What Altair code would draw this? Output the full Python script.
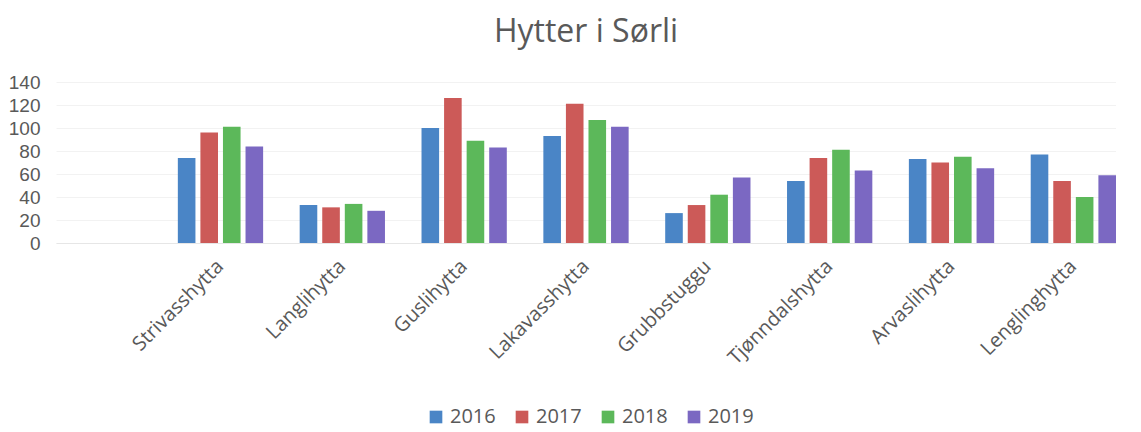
import altair as alt
import pandas as pd

cats = ["Strivasshytta", "Langlihytta", "Guslihytta", "Lakavasshytta",
        "Grubbstuggu", "Tjønndalshytta", "Arvaslihytta", "Lenglinghytta"]
years = ["2016", "2017", "2018", "2019"]
v2016 = [74, 33, 100, 93, 26, 54, 73, 77]
v2017 = [96, 31, 126, 121, 33, 74, 70, 54]
v2018 = [101, 34, 89, 107, 42, 81, 75, 40]
v2019 = [84, 28, 83, 101, 57, 63, 65, 59]
colors = ["#4a85c6", "#cc5a58", "#5cb85a", "#7b68c2"]

rows = []
for y, vals in zip(years, [v2016, v2017, v2018, v2019]):
    for c, v in zip(cats, vals):
        rows.append({"hytte": c, "year": y, "value": v})
df = pd.DataFrame(rows)

FONT = "Open Sans"
GREY = "#595959"

chart = alt.Chart(df).mark_bar().encode(
    x=alt.X("hytte:N", sort=None,
            scale=alt.Scale(domain=[" "] + cats, paddingInner=0.3, paddingOuter=0),
            axis=alt.Axis(title=None, labelAngle=-45, labelFontSize=20, labelColor=GREY,
                          labelFont=FONT, ticks=False, domainColor="#e6e6e6",
                          labelPadding=20, labelAlign="right", labelBaseline="middle")),
    xOffset=alt.XOffset("year:N", scale=alt.Scale(paddingInner=0.22)),
    y=alt.Y("value:Q", scale=alt.Scale(domain=[0, 140]),
            axis=alt.Axis(title=None, values=[0, 20, 40, 60, 80, 100, 120, 140],
                          labelFontSize=19, labelColor=GREY, labelFont="Liberation Sans",
                          ticks=False, domain=False, gridColor="#f2f2f2",
                          labelPadding=16)),
    color=alt.Color("year:N", scale=alt.Scale(domain=years, range=colors),
                    legend=alt.Legend(title=None, orient="none", direction="horizontal",
                                      legendX=370, legendY=325,
                                      symbolType="square", symbolSize=160,
                                      labelFontSize=20, labelColor=GREY, labelFont=FONT,
                                      columnPadding=16)),
).properties(
    width=1060, height=161,
    title=alt.TitleParams("Hytter i Sørli", fontSize=32, color=GREY, font=FONT,
                          fontWeight="normal", offset=24),
    padding={"left": 0, "top": 8, "right": 0, "bottom": 4},
).configure_view(stroke=None)

chart.save("out.html", embed_options={"renderer": "svg", "actions": False})
